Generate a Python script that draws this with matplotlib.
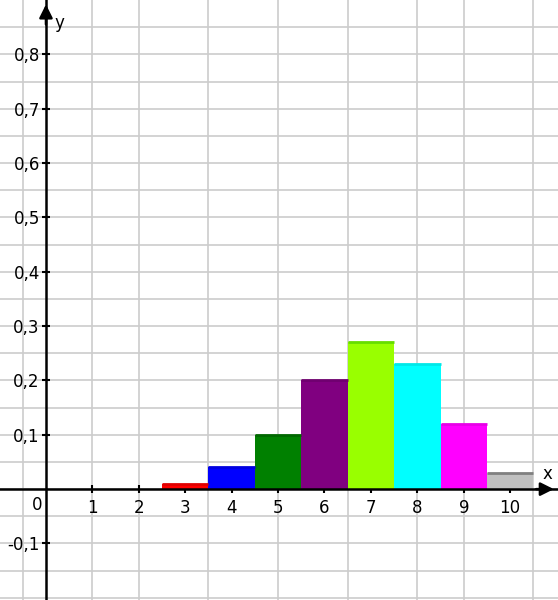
import matplotlib.pyplot as plt

# values
x_vals = [3, 4, 5, 6, 7, 8, 9, 10]
probs = [0.01, 0.04, 0.10, 0.20, 0.27, 0.23, 0.12, 0.03]
bar_colors = ['#ff0000', '#0000ff', '#008000', '#800080', '#99ff00', '#00ffff', '#ff00ff', '#c0c0c0']
top_colors = ['#e00000', '#0000e0', '#006800', '#700070', '#66dd00', '#00e8e8', '#e800e8', '#808080']
x_ticks = [1, 2, 3, 4, 5, 6, 7, 8, 9, 10]
y_ticks = [-0.1, 0.1, 0.2, 0.3, 0.4, 0.5, 0.6, 0.7, 0.8]
y_labels = ['-0,1', '0,1', '0,2', '0,3', '0,4', '0,5', '0,6', '0,7', '0,8']

fig = plt.figure(figsize=(5.58, 6.0), dpi=100)
ax = fig.add_axes([0, 0, 1, 1])
ax.set_xlim(-0.99, 11.03)
ax.set_ylim(-0.204, 0.900)

# background grid (uneven vertical spacing, like the reference)
for gx in [-0.5, 1, 2, 3.5, 5, 6.5, 8, 9, 10.5]:
    ax.axvline(gx, color='#cccccc', lw=1.2, zorder=0)
gy = -0.2
while gy < 0.9:
    ax.axhline(gy, color='#cccccc', lw=1.2, zorder=0)
    gy = round(gy + 0.05, 2)

ax.bar(x_vals, probs, width=1.0, color=bar_colors, zorder=2)
ax.hlines(probs, [x - 0.5 for x in x_vals], [x + 0.5 for x in x_vals],
          colors=top_colors, lw=2, zorder=3)

# axes through the origin
for s in ['top', 'right']:
    ax.spines[s].set_visible(False)
ax.spines['left'].set_position(('data', 0))
ax.spines['bottom'].set_position(('data', 0))
ax.spines['left'].set_linewidth(1.8)
ax.spines['bottom'].set_linewidth(1.8)
ax.spines['left'].set_zorder(5)
ax.spines['bottom'].set_zorder(5)

ax.set_xticks(x_ticks)
ax.set_xticklabels([str(v) for v in x_ticks])
ax.set_yticks(y_ticks)
ax.set_yticklabels(y_labels)
ax.tick_params(axis='both', direction='inout', length=5.8, width=1.5,
               labelsize=12, colors='black')
ax.tick_params(axis='x', pad=4.5)
ax.tick_params(axis='y', pad=1.5)

# arrow heads
ax.annotate('', xy=(11.0, 0), xytext=(10.5, 0),
            arrowprops=dict(arrowstyle='-|>', color='black', lw=1.8, mutation_scale=20),
            zorder=6)
ax.annotate('', xy=(0, 0.897), xytext=(0, 0.85),
            arrowprops=dict(arrowstyle='-|>', color='black', lw=1.8, mutation_scale=20),
            zorder=6)

ax.text(-0.2, -0.012, '0', fontsize=12, ha='center', va='top')
ax.text(10.8, 0.012, 'x', fontsize=12, ha='center', va='bottom')
ax.text(0.28, 0.857, 'y', fontsize=12, ha='center', va='center')

fig.savefig('out.png', dpi=100)
